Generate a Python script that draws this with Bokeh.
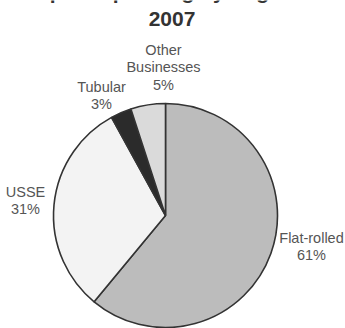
from math import pi
import numpy as np
from bokeh.plotting import figure
from bokeh.models import Range1d, ColumnDataSource
from bokeh.core.properties import value
from bokeh.embed import file_html
from bokeh.resources import INLINE

# ---- data ----
segments = ["Flat-rolled", "USSE", "Tubular", "Other\nBusinesses"]
shares = [61, 31, 3, 5]
colors = ["#bcbcbc", "#f3f3f3", "#2b2b2b", "#dadada"]
title_lines = ["Capital Spending by Segment", "2007"]

# ---- layout ----
W, H = 345, 328
CX, CY, R = 165, H - 215, 112
label_px = [(311, 246), (25, 200), (101, 95), (163, 67)]

vals = np.array(shares, dtype=float)
frac = vals / vals.sum()
cum = np.concatenate([[0], np.cumsum(frac)])
start = pi / 2 - cum[1:] * 2 * pi
end = pi / 2 - cum[:-1] * 2 * pi

src = ColumnDataSource(dict(start=start, end=end, color=colors))

p = figure(width=W, height=H, output_backend="svg", toolbar_location=None,
           x_range=Range1d(0, W), y_range=Range1d(0, H), min_border=0)
p.axis.visible = False
p.grid.visible = False
p.outline_line_color = None
p.background_fill_color = "white"

p.wedge(x=CX, y=CY, radius=R, start_angle="start", end_angle="end",
        fill_color="color", line_color="#333333", line_width=1.6, source=src)

labels = [f"{s}\n{v}%" for s, v in zip(segments, shares)]
p.text(x=[lx for lx, ly in label_px], y=[H - ly for lx, ly in label_px], text=labels,
       text_font=value("Liberation Sans"), text_font_size="14.5px", text_color="#555555",
       text_align="center", text_baseline="middle", text_line_height=1.08)

p.text(x=[W / 2 - 2, W / 2 - 1], y=[H + 9, H - 18], text=title_lines,
       text_font=value("Liberation Sans"), text_font_size="21px", text_font_style="bold",
       text_color="#333333", text_align="center", text_baseline="alphabetic")

open("out.html", "w").write(file_html(p, INLINE))
